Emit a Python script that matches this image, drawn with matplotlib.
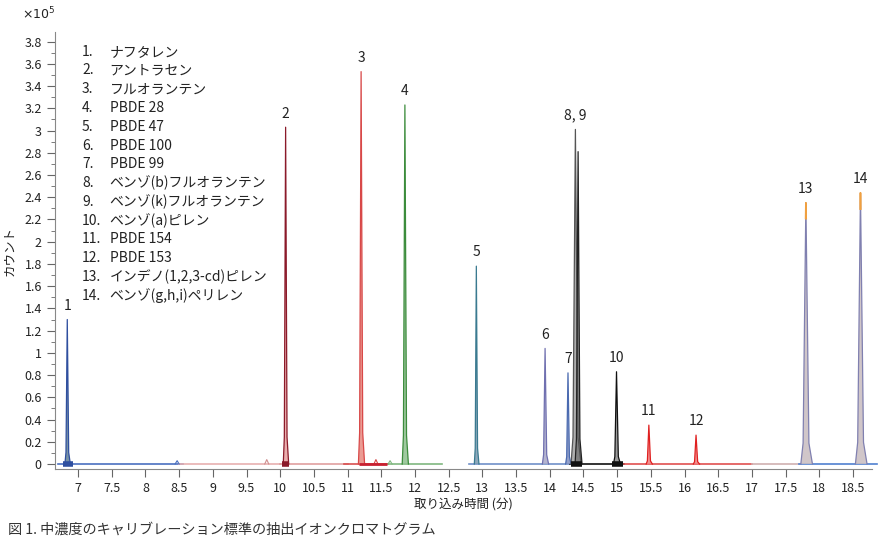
import numpy as np
import matplotlib
matplotlib.use("Agg")
import matplotlib.pyplot as plt
from matplotlib.ticker import MultipleLocator, FuncFormatter

plt.rcParams['font.family'] = ['Noto Sans CJK JP', 'DejaVu Sans']

# compound legend
compounds = ['ナフタレン', 'アントラセン', 'フルオランテン', 'PBDE 28', 'PBDE 47',
             'PBDE 100', 'PBDE 99', 'ベンゾ(b)フルオランテン', 'ベンゾ(k)フルオランテン',
             'ベンゾ(a)ピレン', 'PBDE 154', 'PBDE 153', 'インデノ(1,2,3-cd)ピレン',
             'ベンゾ(g,h,i)ペリレン']

# peaks: retention time (min), height (x1e5 counts), half width (min)
peak_rt = [6.84, 10.08, 11.20, 11.85, 12.91, 13.93, 14.27, 14.38, 14.42,
           14.99, 15.47, 16.17, 17.80, 18.61]
peak_h = [1.30, 3.03, 3.53, 3.23, 1.78, 1.04, 0.82, 3.01, 2.81,
          0.83, 0.35, 0.26, 2.35, 2.44]
peak_w = [0.035, 0.035, 0.04, 0.04, 0.03, 0.04, 0.035, 0.065, 0.045,
          0.045, 0.04, 0.04, 0.075, 0.075]
peak_edge = ['#2f4f9f', '#8b1a2a', '#d84848', '#3c8c3c', '#3a7a90', '#7070b0',
             '#4a6ab0', '#555555', '#222222', '#111111', '#e02020', '#e02020',
             '#8080b0', '#8080b0']
peak_fill = ['#5f7f95', '#e8a0a0', '#e88a80', '#8fc08f', '#7a9ab0', '#a8a8c8',
             '#8090c0', '#a0a0a0', '#787878', '#8a8a8a', '#f08080', '#f08080',
             '#c8bcc0', '#c8bcc0']
peak_text = ['1', '2', '3', '4', '5', '6', '7', '8, 9', '', '10', '11', '12', '13', '14']

# small bumps on the baseline
bump_rt = [8.47, 9.80, 11.42, 11.63]
bump_h = [0.03, 0.04, 0.04, 0.03]
bump_c = ['#4a6fc0', '#d09090', '#d84848', '#80b880']

# baseline traces
base_start = [6.70, 8.50, 10.00, 10.95, 11.60, 12.80, 14.30, 15.10, 17.00, 17.70]
base_end = [8.55, 10.00, 11.00, 11.60, 12.40, 14.30, 15.10, 17.00, 17.70, 18.85]
base_c = ['#4a6fc0', '#e8b0b0', '#e0a0a0', '#d85050', '#80b880', '#7090c8',
          '#111111', '#e05050', '#d0b0b0', '#5080d0']

# integration marks
mark_start = [6.78, 10.02, 11.17, 14.32, 14.92]
mark_end = [6.92, 10.13, 11.58, 14.48, 15.08]
mark_c = ['#2f4f9f', '#8b1a2a', '#c82030', '#111111', '#111111']
mark_lw = [4, 4, 2, 4, 4]

fig = plt.figure(figsize=(8.93, 5.45), dpi=100)
ax = fig.add_axes([0.0616, 0.1394, 0.9148, 0.8016])

for s, e, c in zip(base_start, base_end, base_c):
    ax.plot([s, e], [0, 0], color=c, lw=1.2, clip_on=False, zorder=2)

for rt, h, c in zip(bump_rt, bump_h, bump_c):
    ax.plot([rt - 0.03, rt, rt + 0.03], [0, h, 0], color=c, lw=0.8, zorder=2)

for rt, h, w, ec, fc, t in zip(peak_rt, peak_h, peak_w, peak_edge, peak_fill, peak_text):
    xs = [rt - w, rt - w * 0.55, rt, rt + w * 0.6, rt + w * 1.3]
    ys = [0, h * 0.08, h, h * 0.08, 0]
    ax.fill(xs, ys, color=fc, alpha=0.85, lw=0, zorder=3, clip_on=False)
    ax.plot(xs, ys, color=ec, lw=0.9, zorder=4, clip_on=False)
    if t:
        ax.text(rt, h + 0.06, t, ha='center', va='bottom', fontsize=10, color='#222222')

# orange tips on the late eluters
for i in (12, 13):
    rt, h, w = peak_rt[i], peak_h[i], peak_w[i]
    ax.plot([rt - w * 0.05, rt, rt + w * 0.06], [h * 0.94, h, h * 0.94],
            color='#f0a040', lw=1.2, zorder=5)

for s, e, c, lw in zip(mark_start, mark_end, mark_c, mark_lw):
    ax.plot([s, e], [0, 0], color=c, lw=lw, solid_capstyle='butt', zorder=6)

ax.set_xlim(6.658, 18.78)
ax.set_ylim(-0.045, 3.885)
ax.xaxis.set_major_locator(MultipleLocator(0.5))
ax.yaxis.set_major_locator(MultipleLocator(0.2))
ax.yaxis.set_minor_locator(MultipleLocator(0.1))
fmt = FuncFormatter(lambda v, p: '{:g}'.format(round(v, 2)))
ax.xaxis.set_major_formatter(fmt)
ax.yaxis.set_major_formatter(fmt)
ax.tick_params(axis='both', which='major', labelsize=9, length=6, color='#666666',
               labelcolor='#222222')
ax.tick_params(axis='y', which='minor', length=3, color='#666666')
for sp in ('top', 'right'):
    ax.spines[sp].set_visible(False)
for sp in ('left', 'bottom'):
    ax.spines[sp].set_color('#888888')

ax.set_xlabel('取り込み時間 (分)', fontsize=9, labelpad=2, color='#222222')
ax.set_ylabel('カウント', fontsize=9, labelpad=6, color='#222222')
fig.text(0.025, 0.965, r'$\times10^5$', fontsize=9, color='#222222')

for i, name in enumerate(compounds):
    y = 3.71 - i * 0.169
    ax.text(7.06, y, f'{i + 1}.', fontsize=10, va='center', color='#222222')
    ax.text(7.47, y, name, fontsize=10, va='center', color='#222222')

fig.text(0.009, 0.02, '図 1. 中濃度のキャリブレーション標準の抽出イオンクロマトグラム',
         fontsize=10.2, color='#333333')

fig.savefig('out.png', dpi=100)
